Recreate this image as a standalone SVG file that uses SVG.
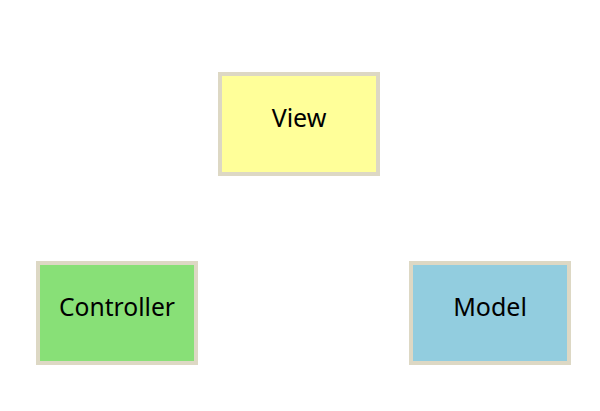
<svg xmlns="http://www.w3.org/2000/svg" width="600" height="411" viewBox="0 0 600 411">
<style>
.box{stroke:#ddd8c4;stroke-width:4}
.lbl{font-family:"Noto Sans","DejaVu Sans",sans-serif;font-size:25px;fill:#000;text-anchor:middle;dominant-baseline:central}
</style>
<rect width="600" height="411" fill="#fff"/>
<g id="connectors"></g>
<g id="view"><rect class="box" x="220" y="74" width="158" height="100" fill="#ffff99"/><text class="lbl" x="299" y="117">View</text></g>
<g id="controller"><rect class="box" x="38" y="263" width="158" height="100" fill="#88e077"/><text class="lbl" x="117" y="306" textLength="116" lengthAdjust="spacingAndGlyphs">Controller</text></g>
<g id="model"><rect class="box" x="411" y="263" width="158" height="100" fill="#92cddf"/><text class="lbl" x="490" y="306">Model</text></g>
</svg>
